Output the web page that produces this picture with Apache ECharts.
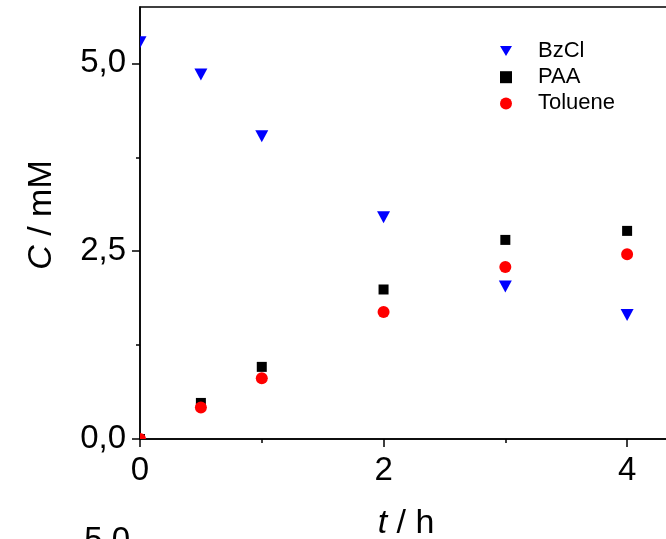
<!DOCTYPE html>
<html>
<head>
<meta charset="utf-8">
<script src="https://cdn.jsdelivr.net/npm/echarts@6/dist/echarts.min.js"></script>
<style>
html,body{margin:0;padding:0;background:#fff;}
#chart{width:666px;height:539px;}
</style>
</head>
<body>
<div id="chart"></div>
<script>
// ---- data ----
var times = [0, 0.5, 1, 2, 3, 4];
var bzcl = [5.28, 4.85, 4.03, 2.95, 2.03, 1.65];
var paa = [0, 0.48, 0.96, 1.99, 2.65, 2.77];
var toluene = [0, 0.42, 0.81, 1.69, 2.29, 2.46];
var xMajorTicks = [0, 2, 4];
var xMinorTicks = [1, 3];
var yMajorTicks = [0, 2.5, 5];
var yMinorTicks = [1.25, 3.75];
var seriesNames = ['BzCl', 'PAA', 'Toluene'];

function pairs(xs, ys) { return xs.map(function (x, i) { return [x, ys[i]]; }); }

var FONT = 'Liberation Sans, Arial, sans-serif';
var chart = echarts.init(document.getElementById('chart'), null, {renderer: 'canvas'});

var xBase = {
  type: 'value', min: 0, max: 4.5, gridIndex: 0, position: 'bottom',
  splitLine: {show: false}
};
var yBase = {
  type: 'value', min: 0, max: 5.75, gridIndex: 0, position: 'left',
  splitLine: {show: false}
};

function markerSeries(name, data, color, shape) {
  return {
    name: name, type: 'custom', xAxisIndex: 0, yAxisIndex: 0, clip: true,
    encode: {x: 0, y: 1},
    itemStyle: {color: color, opacity: 1},
    data: data,
    renderItem: function (params, api) {
      var p = api.coord([api.value(0), api.value(1)]);
      var st = {fill: color};
      if (shape === 'tri') {
        return {type: 'polygon', shape: {points: [[p[0] - 6.5, p[1] - 6], [p[0] + 6.5, p[1] - 6], [p[0], p[1] + 6]]}, style: st};
      } else if (shape === 'rect') {
        return {type: 'rect', shape: {x: p[0] - 5, y: p[1] - 5, width: 10, height: 10}, style: st};
      }
      return {type: 'circle', shape: {cx: p[0], cy: p[1], r: 6}, style: st};
    }
  };
}

var option = {
  backgroundColor: '#fff',
  animation: false,
  grid: {
    left: 140, top: 7, width: 548, height: 432,
    outerBoundsMode: 'none', containLabel: false,
    show: true, borderColor: '#000', borderWidth: 1.5, backgroundColor: 'transparent'
  },
  legend: {
    orient: 'vertical', left: 495, top: 35,
    itemWidth: 12, itemHeight: 12, itemGap: 4.2,
    data: [
      {name: seriesNames[0], icon: 'path://M0,0 L13,0 L6.5,11 Z', itemStyle: {color: '#0000ff', opacity: 1}},
      {name: seriesNames[1], icon: 'rect', itemStyle: {color: '#000000', opacity: 1}},
      {name: seriesNames[2], icon: 'circle', itemStyle: {color: '#ff0000', opacity: 1}}
    ],
    textStyle: {fontFamily: FONT, fontSize: 22, color: '#000', padding: [0, 0, 0, 21]}
  },
  xAxis: [
    Object.assign({}, xBase, {
      axisLine: {show: true, onZero: false, lineStyle: {color: '#000', width: 1.5}},
      axisTick: {show: true, length: 8, customValues: xMajorTicks, lineStyle: {color: '#000', width: 1.5}},
      axisLabel: {show: true, customValues: xMajorTicks, margin: 15, fontFamily: FONT, fontSize: 33, color: '#000'}
    }),
    Object.assign({}, xBase, {
      axisLine: {show: false},
      axisTick: {show: true, length: 4, customValues: xMinorTicks, lineStyle: {color: '#000', width: 1.5}},
      axisLabel: {show: false}
    })
  ],
  yAxis: [
    Object.assign({}, yBase, {
      axisLine: {show: true, onZero: false, lineStyle: {color: '#000', width: 1.5}},
      axisTick: {show: true, length: 8, customValues: yMajorTicks, lineStyle: {color: '#000', width: 1.5}},
      axisLabel: {show: true, customValues: yMajorTicks, margin: 14, fontFamily: FONT, fontSize: 33, color: '#000',
        formatter: function (v) { return v.toFixed(1).replace('.', ','); }}
    }),
    Object.assign({}, yBase, {
      axisLine: {show: false},
      axisTick: {show: true, length: 4, customValues: yMinorTicks, lineStyle: {color: '#000', width: 1.5}},
      axisLabel: {show: false}
    })
  ],
  series: [
    markerSeries(seriesNames[0], pairs(times, bzcl), '#0000ff', 'tri'),
    markerSeries(seriesNames[1], pairs(times, paa), '#000000', 'rect'),
    markerSeries(seriesNames[2], pairs(times, toluene), '#ff0000', 'circle')
  ],
  graphic: [
    {
      type: 'text', x: 42, y: 215, rotation: Math.PI / 2,
      style: {
        text: '{i|C} / mM', fill: '#000', font: '34px ' + FONT,
        align: 'center', verticalAlign: 'middle',
        rich: {i: {fontStyle: 'italic', fontSize: 34, fontFamily: FONT}}
      }
    },
    {
      type: 'text', x: 406, y: 524,
      style: {
        text: '{i|t} / h', fill: '#000', font: '34px ' + FONT,
        align: 'center', verticalAlign: 'middle',
        rich: {i: {fontStyle: 'italic', fontSize: 34, fontFamily: FONT}}
      }
    },
    {
      type: 'text', x: 130, y: 524,
      style: {text: '5,0', fill: '#000', font: '33px ' + FONT, align: 'right', verticalAlign: 'top'}
    }
  ]
};
chart.setOption(option);
</script>
</body>
</html>
